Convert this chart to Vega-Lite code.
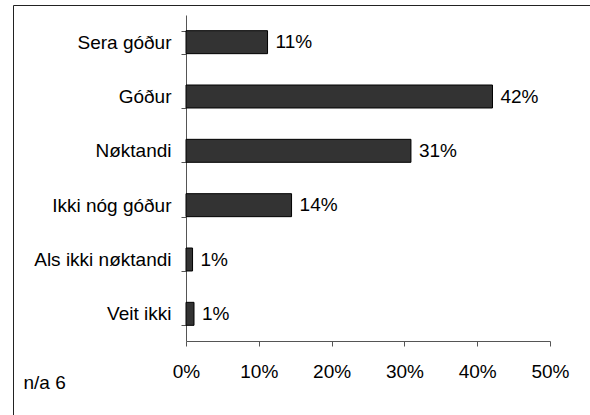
{
  "$schema": "https://vega.github.io/schema/vega-lite/v6.json",
  "autosize": {"type": "none"},
  "padding": {"left": 13, "top": 5, "right": 0, "bottom": 0},
  "width": 580,
  "height": 412,
  "config": {
    "view": {"stroke": "#222", "strokeWidth": 1},
    "font": "Liberation Sans",
    "axis": {"grid": false, "domainColor": "#555", "tickColor": "#555", "labelColor": "#000", "labelFontSize": 19, "labelFont": "Liberation Sans", "tickSize": 5}
  },
  "data": {
    "values": [
      {"cat": "Sera góður", "value": 11.2, "label": "11%"},
      {"cat": "Góður", "value": 42.1, "label": "42%"},
      {"cat": "Nøktandi", "value": 30.9, "label": "31%"},
      {"cat": "Ikki nóg góður", "value": 14.5, "label": "14%"},
      {"cat": "Als ikki nøktandi", "value": 0.9, "label": "1%"},
      {"cat": "Veit ikki", "value": 1.1, "label": "1%"}
    ]
  },
  "encoding": {
    "y": {
      "field": "cat",
      "type": "nominal",
      "sort": null,
      "scale": {"range": [10, 336], "paddingInner": 0.577, "paddingOuter": 0.2885},
      "axis": {"orient": "left", "offset": -173, "title": null, "tickBand": "extent", "labelPadding": 10}
    }
  },
  "layer": [
    {
      "mark": {"type": "bar", "fill": "#333333", "stroke": "#000000", "strokeWidth": 1},
      "encoding": {
        "x": {
          "field": "value",
          "type": "quantitative",
          "scale": {"domain": [0, 50], "range": [173, 537], "nice": false, "zero": true},
          "axis": {
            "orient": "bottom",
            "offset": -76,
            "values": [0, 10, 20, 30, 40, 50],
            "labelExpr": "datum.value + '%'",
            "labelFlush": false,
            "labelPadding": 16,
            "title": "n/a 6",
            "titleX": 10,
            "titleY": 47,
            "titleAlign": "left",
            "titleBaseline": "alphabetic",
            "titleFontSize": 19,
            "titleFontWeight": "normal",
            "titleFont": "Liberation Sans",
            "titleColor": "#000"
          }
        }
      }
    },
    {
      "mark": {"type": "text", "align": "left", "dx": 8, "fontSize": 19, "font": "Liberation Sans", "color": "#000"},
      "encoding": {
        "x": {"field": "value", "type": "quantitative"},
        "text": {"field": "label"}
      }
    }
  ]
}
